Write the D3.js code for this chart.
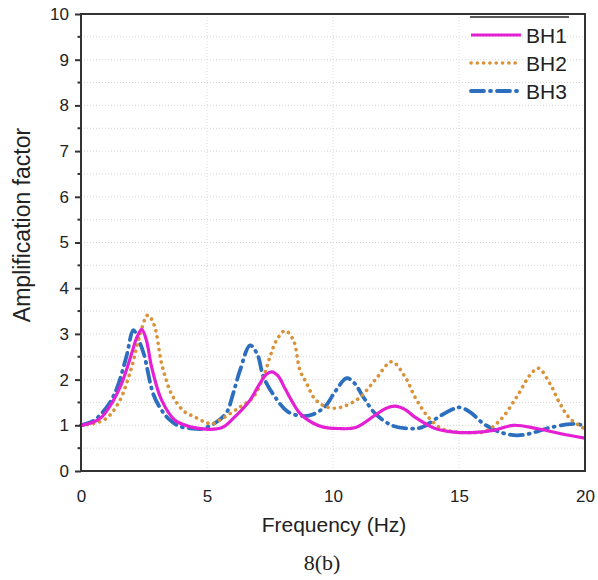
<!DOCTYPE html>
<html>
<head>
<meta charset="utf-8">
<script src="https://cdn.jsdelivr.net/npm/d3@7"></script>
<style>
  body { margin: 0; background: #fff; }
  text { font-family: "Liberation Sans", Arial, sans-serif; fill: #222; }
</style>
</head>
<body>
<div id="chart"></div>
<script>
// frequency (Hz) and amplification
var bh1Freq = [0, 0.4, 0.82, 1.22, 1.61, 2.01, 2.2, 2.41, 2.6, 2.8, 3.2, 3.73, 4.26, 4.72, 5.1, 5.6, 6.04, 6.71, 7.1, 7.35, 7.57, 7.82, 8.1, 8.69, 9.2, 9.62, 10.2, 10.9, 11.67, 12.1, 12.46, 12.85, 13.25, 14.05, 14.84, 15.5, 16.36, 17.16, 18.08, 19.0, 20];
var bh1Amp = [1.0, 1.05, 1.18, 1.48, 1.91, 2.57, 2.9, 3.1, 2.85, 2.28, 1.55, 1.11, 0.98, 0.93, 0.91, 0.95, 1.15, 1.55, 1.92, 2.11, 2.17, 2.08, 1.8, 1.26, 1.05, 0.96, 0.93, 0.95, 1.22, 1.37, 1.42, 1.35, 1.18, 0.93, 0.85, 0.84, 0.89, 1.0, 0.93, 0.82, 0.72];

var bh2Freq = [0, 0.5, 1.0, 1.5, 2.0, 2.3, 2.65, 2.9, 3.2, 3.5, 3.73, 4.1, 4.52, 4.92, 5.2, 5.52, 6.31, 6.84, 7.24, 7.5, 7.76, 8.1, 8.43, 8.69, 8.96, 9.22, 9.48, 9.75, 10.2, 11.0, 11.67, 12.33, 12.86, 13.25, 13.78, 14.31, 14.8, 15.5, 16.0, 16.63, 17.29, 17.82, 18.15, 18.61, 19.0, 19.4, 20];
var bh2Amp = [1.0, 1.04, 1.15, 1.5, 2.25, 2.9, 3.41, 3.2, 2.35, 1.8, 1.55, 1.3, 1.18, 1.07, 1.03, 1.12, 1.4, 1.62, 2.06, 2.5, 2.86, 3.07, 2.86, 2.2, 1.91, 1.62, 1.48, 1.4, 1.38, 1.58, 1.99, 2.39, 2.06, 1.62, 1.18, 0.93, 0.86, 0.84, 0.86, 1.11, 1.62, 2.1, 2.25, 1.91, 1.48, 1.15, 0.92];

var bh3Freq = [0, 0.5, 0.8, 1.15, 1.45, 1.8, 2.08, 2.3, 2.5, 2.87, 3.2, 3.5, 3.9, 4.4, 4.8, 5.15, 5.5, 5.8, 6.04, 6.31, 6.71, 7.0, 7.24, 7.7, 8.2, 8.8, 9.22, 9.7, 10.1, 10.55, 10.87, 11.2, 11.67, 12.33, 13.0, 13.5, 14.3, 14.84, 15.04, 15.44, 15.96, 16.63, 17.29, 17.82, 18.48, 19.27, 19.67, 20];
var bh3Amp = [1.0, 1.1, 1.25, 1.5, 1.85, 2.5, 3.08, 2.85, 2.55, 1.68, 1.33, 1.13, 0.98, 0.93, 0.92, 1.0, 1.12, 1.3, 1.7, 2.2, 2.75, 2.55, 2.06, 1.62, 1.3, 1.2, 1.24, 1.42, 1.75, 2.03, 1.91, 1.62, 1.26, 1.0, 0.93, 0.95, 1.22, 1.37, 1.39, 1.29, 1.04, 0.85, 0.78, 0.82, 0.93, 1.02, 1.03, 0.98];

var seriesNames = ["BH1", "BH2", "BH3"];
var xTicks = [0, 5, 10, 15, 20];
var yTicks = [0, 1, 2, 3, 4, 5, 6, 7, 8, 9, 10];

var width = 598, height = 580;
var margin = { top: 14, right: 13, bottom: 109, left: 81 };

var svg = d3.select("#chart").append("svg")
    .attr("width", width)
    .attr("height", height);

var x = d3.scaleLinear().domain([0, 20]).range([margin.left, width - margin.right]);
var y = d3.scaleLinear().domain([0, 10]).range([height - margin.bottom, margin.top]);

// faint dotted grid
var halfSteps = d3.range(0.5, 10, 0.5);
svg.append("g").selectAll("line")
    .data(halfSteps)
    .enter().append("line")
    .attr("x1", x(0)).attr("x2", x(20))
    .attr("y1", function (d) { return y(d); })
    .attr("y2", function (d) { return y(d); })
    .style("stroke", "#d4d4d4")
    .style("stroke-width", 1)
    .style("stroke-dasharray", "1 2");

svg.append("g").selectAll("line")
    .data([5, 10, 15])
    .enter().append("line")
    .attr("y1", y(0)).attr("y2", y(10))
    .attr("x1", function (d) { return x(d); })
    .attr("x2", function (d) { return x(d); })
    .style("stroke", "#dcdcdc")
    .style("stroke-width", 1)
    .style("stroke-dasharray", "1 2");

// series
function toPoints(fs, vs) {
    return fs.map(function (f, i) { return [f, vs[i]]; });
}

var line = d3.line()
    .x(function (d) { return x(d[0]); })
    .y(function (d) { return y(d[1]); })
    .curve(d3.curveCatmullRom.alpha(0.5));

var series = [
    { name: seriesNames[0], pts: toPoints(bh1Freq, bh1Amp), color: "#e41fd4", w: 3.2, dash: null, cap: "butt" },
    { name: seriesNames[1], pts: toPoints(bh2Freq, bh2Amp), color: "#d99238", w: 3.6, dash: "0.1 6.2", cap: "round" },
    { name: seriesNames[2], pts: toPoints(bh3Freq, bh3Amp), color: "#2d6fbf", w: 3.8, dash: "13 6 1 6", cap: "round" }
];

// draw BH3 first, then BH2, then BH1 on top
[series[2], series[1], series[0]].forEach(function (s) {
    svg.append("path")
        .datum(s.pts)
        .attr("d", line)
        .style("fill", "none")
        .style("stroke", s.color)
        .style("stroke-width", s.w)
        .style("stroke-linecap", s.cap)
        .style("stroke-dasharray", s.dash);
});

// frame
svg.append("rect")
    .attr("x", x(0)).attr("y", y(10))
    .attr("width", x(20) - x(0))
    .attr("height", y(0) - y(10))
    .style("fill", "none")
    .style("stroke", "#333")
    .style("stroke-width", 2);

// y axis: outward ticks with minor halves
var yAxis = d3.axisLeft(y).tickValues(yTicks).tickSize(6).tickPadding(6).tickFormat(d3.format("d"));
var yG = svg.append("g")
    .attr("transform", "translate(" + x(0) + ",0)")
    .call(yAxis);
yG.select(".domain").remove();
yG.selectAll(".tick line").style("stroke", "#333").style("stroke-width", 2);
yG.selectAll(".tick text").style("font-size", "17px").style("fill", "#222");

svg.append("g").selectAll("line")
    .data(d3.range(0.5, 10, 1))
    .enter().append("line")
    .attr("x1", x(0) - 3.5).attr("x2", x(0))
    .attr("y1", function (d) { return y(d); })
    .attr("y2", function (d) { return y(d); })
    .style("stroke", "#333")
    .style("stroke-width", 2);

// x tick labels only
var xAxis = d3.axisBottom(x).tickValues(xTicks).tickSize(0).tickPadding(19).tickFormat(d3.format("d"));
var xG = svg.append("g")
    .attr("transform", "translate(0," + y(0) + ")")
    .call(xAxis);
xG.select(".domain").remove();
xG.selectAll(".tick text").style("font-size", "17px").style("fill", "#222");

// axis titles
svg.append("text")
    .attr("x", 334).attr("y", 532)
    .attr("text-anchor", "middle")
    .style("font-size", "21px")
    .text("Frequency (Hz)");

svg.append("text")
    .attr("transform", "translate(30,225) rotate(-90)")
    .attr("text-anchor", "middle")
    .style("font-size", "23px")
    .text("Amplification factor");

svg.append("text")
    .attr("x", 322).attr("y", 570)
    .attr("text-anchor", "middle")
    .style("font-family", "'Liberation Serif', 'Times New Roman', serif")
    .style("font-size", "22px")
    .text("8(b)");

// legend
svg.append("line")
    .attr("x1", 470).attr("x2", 569)
    .attr("y1", 17).attr("y2", 17)
    .style("stroke", "#222")
    .style("stroke-width", 1.5);

var legend = svg.append("g").selectAll("g")
    .data(series)
    .enter().append("g")
    .attr("transform", function (d, i) { return "translate(0," + (35 + i * 28) + ")"; });

legend.append("line")
    .attr("x1", 471).attr("x2", 521)
    .attr("y1", 0).attr("y2", 0)
    .style("stroke", function (d) { return d.color; })
    .style("stroke-width", function (d) { return d.w; })
    .style("stroke-linecap", function (d) { return d.cap; })
    .style("stroke-dasharray", function (d) { return d.dash; });

legend.append("text")
    .attr("x", 526).attr("y", 8)
    .style("font-size", "21px")
    .text(function (d) { return d.name; });
</script>
</body>
</html>
